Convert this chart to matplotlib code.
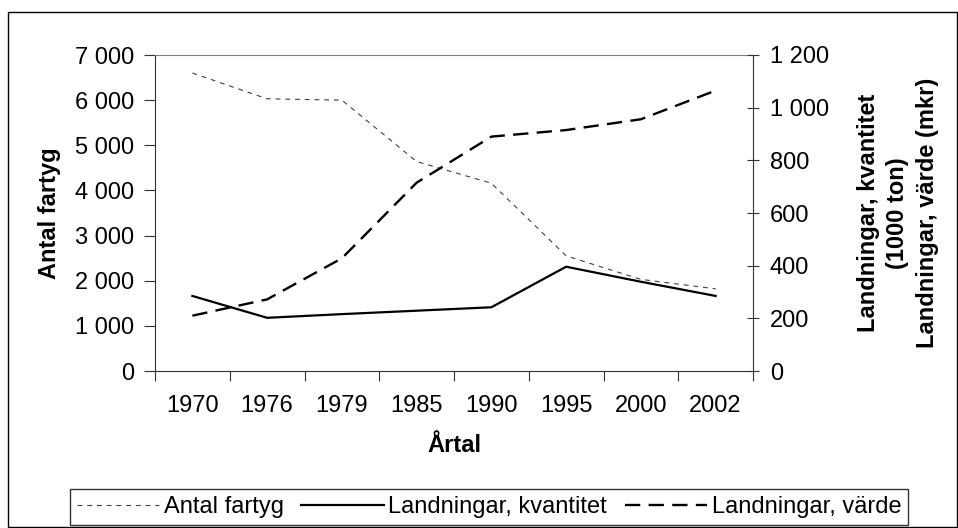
import numpy as np
import matplotlib
matplotlib.use('Agg')
import matplotlib.pyplot as plt
from matplotlib.patches import Rectangle
from matplotlib.ticker import FuncFormatter, FixedLocator

plt.rcParams['font.family'] = ['Liberation Sans', 'DejaVu Sans']
plt.rcParams['lines.scale_dashes'] = False

# data
years = ['1970', '1976', '1979', '1985', '1990', '1995', '2000', '2002']
antal_fartyg = [6600, 6030, 6000, 4640, 4160, 2550, 2030, 1820]      # left axis
kvantitet = [285, 202, 216, 229, 242, 396, 339, 285]                 # right axis, 1000 ton
varde = [210, 272, 428, 715, 890, 915, 956, 1065]                    # right axis, mkr

fs = 17
dark = '#333333'

fig = plt.figure(figsize=(9.58, 5.28), dpi=100)
ax = fig.add_axes([155/958, 1-371/528, 598/958, 316/528])
ax2 = ax.twinx()

x = np.arange(len(years))
l1, = ax.plot(x, antal_fartyg, color='#404040', lw=0.8, dashes=(3.5, 3.5))
l2, = ax2.plot(x, kvantitet, color='black', lw=1.6)
l3, = ax2.plot(x, varde, color='black', lw=1.7, dashes=(11, 6))

ax.set_xlim(-0.5, len(years) - 0.5)
ax.set_ylim(0, 7000)
ax2.set_ylim(0, 1200)
ax.set_yticks(np.arange(0, 7001, 1000))
ax2.set_yticks(np.arange(0, 1201, 200))

sep = FuncFormatter(lambda v, p: '{:,.0f}'.format(v).replace(',', ' '))
ax.yaxis.set_major_formatter(sep)
ax2.yaxis.set_major_formatter(sep)

# x ticks between categories, labels at centers
ax.xaxis.set_major_locator(FixedLocator(np.arange(-0.5, len(years), 1.0)))
ax.xaxis.set_minor_locator(FixedLocator(x))
ax.set_xticklabels([], minor=False)
ax.set_xticklabels(years, minor=True)
ax.tick_params(axis='x', which='major', length=7, direction='out', color=dark)
ax.tick_params(axis='x', which='minor', length=0, pad=17, labelsize=fs)
ax.tick_params(axis='y', length=8, direction='out', pad=7, labelsize=fs, color=dark)
ax2.tick_params(axis='y', length=8, direction='inout', pad=8, labelsize=fs, color=dark)

for s in ['left', 'bottom']:
    ax.spines[s].set_color(dark)
ax.spines['top'].set_color('#808080')
ax.spines['right'].set_visible(False)
ax2.spines['right'].set_color(dark)
for s in ['left', 'top', 'bottom']:
    ax2.spines[s].set_visible(False)

ax.set_xlabel('Årtal', fontsize=fs, fontweight='bold')
ax.xaxis.set_label_coords(0.5, -0.236)
ax.xaxis.label.set_va('center')

ax.text(-0.176, 0.5, 'Antal fartyg', transform=ax.transAxes, rotation=90,
        ha='center', va='center', fontsize=fs, fontweight='bold')
ax.text(1.242, 0.5, 'Landningar, kvantitet\n(1000 ton)\nLandningar, värde (mkr)',
        transform=ax.transAxes, rotation=90, ha='center', va='center',
        multialignment='center', linespacing=1.36, fontsize=fs, fontweight='bold')

leg = fig.legend([l1, l2, l3], ['Antal fartyg', 'Landningar, kvantitet', 'Landningar, värde'],
                 loc='center', bbox_to_anchor=(489/958, 1-507/528), ncol=3,
                 fontsize=fs, frameon=True, fancybox=False, edgecolor='black',
                 handlelength=3.5, handletextpad=0.18, columnspacing=0.75,
                 borderpad=0.3, borderaxespad=0)
leg.get_frame().set_linewidth(1.0)

fig.patches.append(Rectangle((8/958, 1/528), 949/958, 515/528, transform=fig.transFigure,
                             fill=False, edgecolor='black', lw=1.0))

fig.savefig('out.png', dpi=100)
